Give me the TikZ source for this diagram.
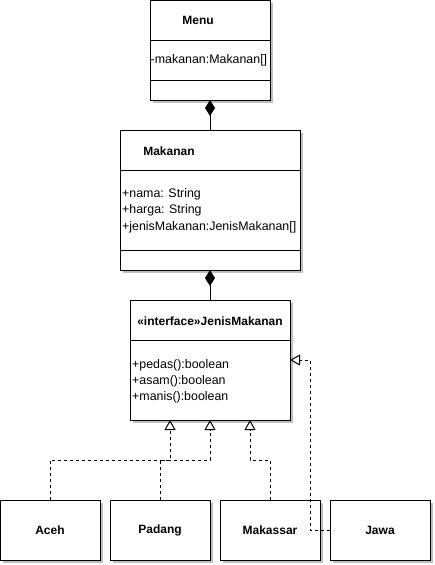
\documentclass[tikz,border=0pt]{standalone}
\usepackage{fontspec}
\setmainfont{Liberation Sans}
\usetikzlibrary{arrows.meta,shadows}
\begin{document}
\begin{tikzpicture}[x=1pt,y=-1pt,
  box/.style={draw,fill=white,inner sep=0pt,outer sep=0pt,anchor=north west,line width=1pt,
    drop shadow={shadow xshift=3pt,shadow yshift=-3pt,fill=black!25,opacity=1}},
  ttl/.style={font=\bfseries\fontsize{12}{14}\selectfont,inner sep=0pt},
  txt/.style={font=\fontsize{12.4}{14}\selectfont,inner sep=0pt,anchor=west},
  sep/.style={line width=1pt},
  comp/.style={line width=1pt,-{Diamond[length=16pt,width=10pt,fill=black]}},
  real/.style={line width=1pt,dash pattern=on 3pt off 3pt,-{Triangle[open,length=10pt,width=11pt,fill=white]}}
]
\useasboundingbox (0,0) rectangle (435,565);
% boxes
\node[box,minimum width=120pt,minimum height=100pt] (menu) at (150,0) {};
\node[box,minimum width=180pt,minimum height=140pt] (makanan) at (120,130) {};
\node[box,minimum width=160pt,minimum height=120pt] (jenis) at (130,300) {};
\node[box,minimum width=100pt,minimum height=60pt] (aceh) at (0,500) {};
\node[box,minimum width=100pt,minimum height=60pt] (padang) at (110,500) {};
\node[box,minimum width=100pt,minimum height=60pt] (makassar) at (220,500) {};
\node[box,minimum width=100pt,minimum height=60pt] (jawa) at (330,500) {};
% dividers
\draw[sep] (150,40) -- (270,40);
\draw[sep] (150,80) -- (270,80);
\draw[sep] (120,170) -- (300,170);
\draw[sep] (120,250) -- (300,250);
\draw[sep] (130,340) -- (290,340);
% texts
\node[ttl] (menut) at (198,20) {Menu};
\node[txt] (menua) at (150.5,60) {-makanan:Makanan[]};
\node[ttl] (makt) at (169,151) {Makanan};
\node[txt] (maka1) at (122,194) {+nama: String};
\node[txt] (maka2) at (122,210) {+harga: String};
\node[txt] (maka3) at (122,227) {+jenisMakanan:JenisMakanan[]};
\node[ttl] (jt) at (210,321) {«interface»JenisMakanan};
\node[txt] (jm1) at (132,365) {+pedas():boolean};
\node[txt] (jm2) at (132,381) {+asam():boolean};
\node[txt] (jm3) at (132,397) {+manis():boolean};
\node[ttl] at (aceh.center) {Aceh};
\node[ttl] at (padang.center) {Padang};
\node[ttl] at (makassar.center) {Makassar};
\node[ttl] at (jawa.center) {Jawa};
% composition
\draw[comp] (makanan.north) -- (menu.south);
\draw[comp] (jenis.north) -- (makanan.south);
% realizations
\coordinate (t1) at (170,420);
\coordinate (t2) at (210,420);
\coordinate (t3) at (250,420);
\coordinate (t4) at (290,360);
\draw[real] (aceh.north) -- ++(0,-40) -| (t1);
\draw[real] (padang.north) -- ++(0,-40) -| (t2);
\draw[real] (makassar.north) -- ++(0,-40) -| (t3);
\draw[real] (jawa.west) -- ++(-20,0) |- (t4);
\end{tikzpicture}
\end{document}
